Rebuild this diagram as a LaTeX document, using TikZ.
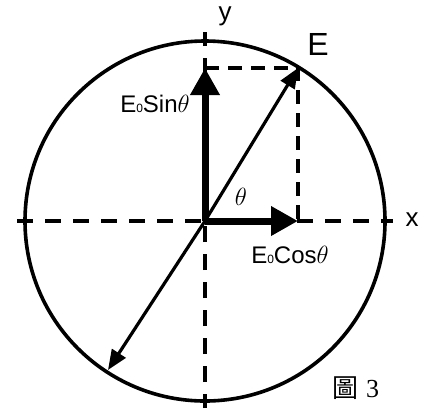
\documentclass[tikz,border=0pt]{standalone}
\usepackage{fontspec}
\setmainfont{Liberation Sans}
\newfontfamily\cjkfont{Noto Sans CJK TC}
\newfontfamily\seriffont{Liberation Serif}
\usetikzlibrary{arrows.meta,positioning}

\begin{document}
\begin{tikzpicture}[x=1pt, y=-1pt,
    axis/.style={line width=3.5pt, dash pattern=on 16pt off 12pt},
    guide/.style={line width=3.5pt, dash pattern=on 14pt off 9pt},
    comp/.style={line width=7pt, -{Triangle[length=27pt,width=28pt]}},
    field/.style={line width=3.2pt, -{Triangle[length=20pt,width=16pt]}},
    lbl/.style={inner sep=0pt, font=\fontsize{24}{26}\selectfont}
  ]
  \useasboundingbox (0,0) rectangle (430,408);
  \coordinate (O) at (205,221);
  \coordinate (Etip) at (298,68);
  \coordinate (Eback) at (108,370);
  \coordinate (Ey) at (205,68);
  \coordinate (Ex) at (298,221);

  % circle and axes
  \draw[line width=3.6pt] (O) circle (180);
  \coordinate (xl) at (17,221);
  \coordinate (xr) at (393,221);
  \coordinate (yt) at (205,32);
  \coordinate (yb) at (205,408);
  \draw[axis] (xl) -- (xr);
  \draw[axis, dash phase=2pt] (yb) -- (yt);

  % projections
  \draw[guide] (Ey) -- (Etip) -- (Ex);

  % components
  \draw[comp] (O) -- (Ey);
  \draw[comp] (O) -- (Ex);

  % field vector
  \draw[field] (O) -- (Etip);
  \draw[field] (O) -- (Eback);

  % labels
  \node[lbl, font=\fontsize{26}{28}\selectfont] (ylab) at (225,16) {y};
  \node[lbl, font=\fontsize{26}{28}\selectfont] (xlab) at (412,220) {x};
  \node[lbl, font=\fontsize{32}{34}\selectfont] (Elab) at (318,44) {E};
  \node[lbl] (sinlab) at (155,104) {E{\fontsize{12}{12}\selectfont 0}Sin{\fontsize{28}{28}\selectfont$\theta$}};
  \node[lbl] (coslab) at (290,255) {E{\fontsize{12}{12}\selectfont 0}Cos{\fontsize{28}{28}\selectfont$\theta$}};
  \node[lbl, font=\fontsize{30}{30}\selectfont] (thlab) at (241,197) {$\theta$};
  \node[lbl, font=\fontsize{26}{28}\selectfont] (figlab) at (356,388) {{\cjkfont 圖} {\seriffont 3}};
\end{tikzpicture}
\end{document}
